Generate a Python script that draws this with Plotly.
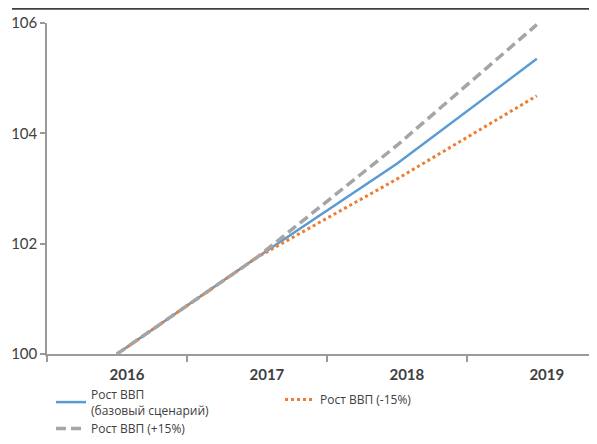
import plotly.graph_objects as go

years = ["2016", "2017", "2018", "2019"]
base = [100.0, 101.75, 103.45, 105.35]
plus15 = [100.0, 101.75, 103.78, 105.97]
minus15 = [100.0, 101.75, 103.17, 104.68]
y_ticks = [100, 102, 104, 106]

names = ["Рост ВВП<br>(базовый сценарий)", "Рост ВВП (-15%)", "Рост ВВП (+15%)"]

fig = go.Figure()
fig.add_trace(go.Scatter(x=years, y=base, mode="lines", name=names[0], legend="legend",
                         line=dict(color="#5B9BD5", width=2.5)))
fig.add_trace(go.Scatter(x=years, y=minus15, mode="lines", name=names[1], legend="legend2",
                         line=dict(color="#ED7D31", width=3, dash="3px,3px")))
fig.add_trace(go.Scatter(x=years, y=plus15, mode="lines", name=names[2], legend="legend3",
                         line=dict(color="#A5A5A5", width=3.5, dash="10px,5px")))

font_family = "Lato, 'Open Sans', sans-serif"
leg_font = dict(family="'Open Sans', sans-serif", size=12, color="#404040")
PW, PH = 550, 331  # plot area size in px


def leg(px_left, px_top):
    return dict(x=px_left / PW, y=-px_top / PH, xanchor="left", yanchor="top",
                orientation="v", font=leg_font, itemwidth=30,
                bgcolor="rgba(0,0,0,0)", borderwidth=0)


fig.update_layout(
    width=589, height=436,
    margin=dict(l=39, r=0, t=15, b=90, autoexpand=False),
    paper_bgcolor="white", plot_bgcolor="white",
    font=dict(family=font_family, color="#404040", size=13),
    showlegend=True,
    legend=leg(4, 26),
    legend2=leg(233, 31),
    legend3=leg(4, 60),
    xaxis=dict(type="category", range=[-0.5, 3.43], showgrid=False, automargin=False,
               showline=True, linecolor="#9a9a9a", linewidth=1.5,
               ticks="outside", tickson="boundaries", ticklen=6,
               tickcolor="#9a9a9a", tickwidth=1.5,
               tickfont=dict(size=15, color="#404040", family=font_family, weight="bold"),
               ticklabelshift=10, ticklabelstandoff=6, zeroline=False),
    yaxis=dict(range=[100, 106], tickvals=y_ticks, showgrid=False, automargin=False,
               showline=True, linecolor="#9a9a9a", linewidth=1.5,
               ticks="outside", ticklen=5, tickcolor="#9a9a9a", tickwidth=1.5,
               tickfont=dict(size=15, color="#404040"), zeroline=False),
)

fig.add_shape(type="line", xref="paper", yref="paper",
              x0=-35 / PW, x1=1.0, y0=1 + 14.5 / PH, y1=1 + 14.5 / PH,
              line=dict(color="#404040", width=2.5))

fig.write_html("out.html")
